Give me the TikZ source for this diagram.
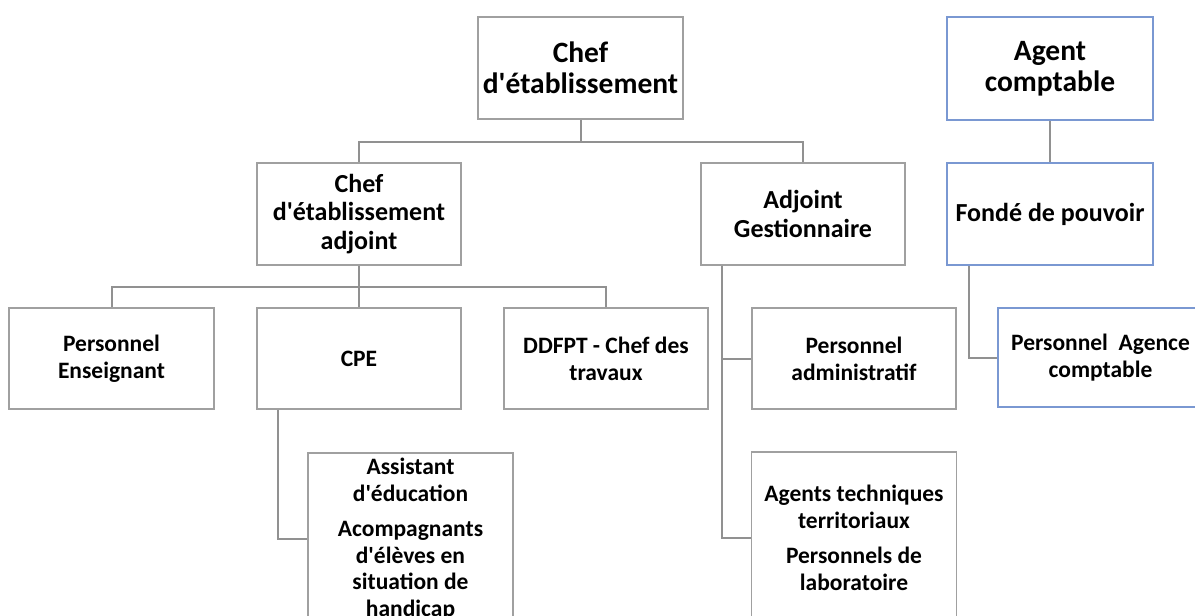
\documentclass[tikz,border=0pt]{standalone}
\usepackage{fontspec}
\setmainfont{Carlito}
\newcommand{\sq}{\textquotesingle}
\begin{document}
\begin{tikzpicture}[x=1pt,y=-1pt]
\definecolor{boxgray}{RGB}{160,160,160}
\definecolor{linegray}{RGB}{145,145,145}
\definecolor{boxblue}{RGB}{122,152,210}
\tikzset{
  gbox/.style={draw=boxgray, line width=1.7pt, fill=white, align=center, inner sep=0pt,
    font=\bfseries, text=black},
  bbox/.style={gbox, draw=boxblue, line width=2.4pt},
  lvlA/.style={minimum width=205pt, minimum height=102pt, font=\bfseries\fontsize{29.5}{31}\selectfont},
  lvlB/.style={minimum width=204pt, minimum height=102pt, font=\bfseries\fontsize{26}{28.5}\selectfont},
  lvlC/.style={minimum width=204pt, minimum height=101pt, font=\bfseries\fontsize{23.5}{27}\selectfont},
  lvlD/.style={minimum width=205pt, minimum height=172pt, font=\bfseries\fontsize{23.5}{26.5}\selectfont},
  conn/.style={draw=linegray, line width=2pt},
}
\useasboundingbox[fill=white] (0,0) rectangle (1195,616);
% nodes
\node[gbox, lvlA] (chef) at (580.5,68) {Chef\\d\sq établissement};
\node[bbox, lvlA, minimum width=206pt, minimum height=103pt] (agent) at (1050,68.5) {Agent\\comptable};
\node[bbox, lvlB, minimum width=206pt] (fonde) at (1050,214) {Fondé de pouvoir};
\node[gbox, lvlB] (adj) at (359,214) {Chef\\d\sq établissement\\adjoint};
\node[gbox, lvlB] (gest) at (803,214) {Adjoint\\Gestionnaire};
\node[gbox, lvlC, minimum width=205pt] (ens) at (111.5,358.5) {Personnel\\Enseignant};
\node[gbox, lvlC] (cpe) at (359,358.5) {CPE};
\node[gbox, lvlC] (ddfpt) at (606,358.5) {DDFPT - Chef des\\travaux};
\node[gbox, lvlC] (padm) at (854,358.5) {Personnel\\administratif};
\node[bbox, lvlC, minimum width=205pt, minimum height=99pt] (pac) at (1100.5,357.5) {Personnel~ Agence\\comptable};
\node[gbox, lvlD] (assist) at (410.5,539) {Assistant\\d\sq éducation\\[9pt]Acompagnants\\d\sq élèves en\\situation de\\handicap};
\node[gbox, lvlD] (agents) at (854,538) {Agents techniques\\territoriaux\\[9pt]Personnels de\\laboratoire};
% connectors
\coordinate (j1) at (580.5,142);
\draw[conn] (chef.south) -- (j1);
\draw[conn] (j1) -| (adj.north);
\draw[conn] (j1) -| (gest.north);
\coordinate (j2) at (359,287);
\draw[conn] (adj.south) -- (j2);
\draw[conn] (j2) -| (ens.north);
\draw[conn] (j2) -| (cpe.north);
\draw[conn] (j2) -| (ddfpt.north);
\draw[conn] ([xshift=-81pt]cpe.south) |- (assist.west);
\draw[conn] ([xshift=-81pt]gest.south) |- (padm.west);
\draw[conn] ([xshift=-81pt]gest.south) |- (agents.west);
\draw[conn] (agent.south) -- (fonde.north);
\draw[conn] ([xshift=-81pt]fonde.south) |- (pac.west);
\end{tikzpicture}
\end{document}
